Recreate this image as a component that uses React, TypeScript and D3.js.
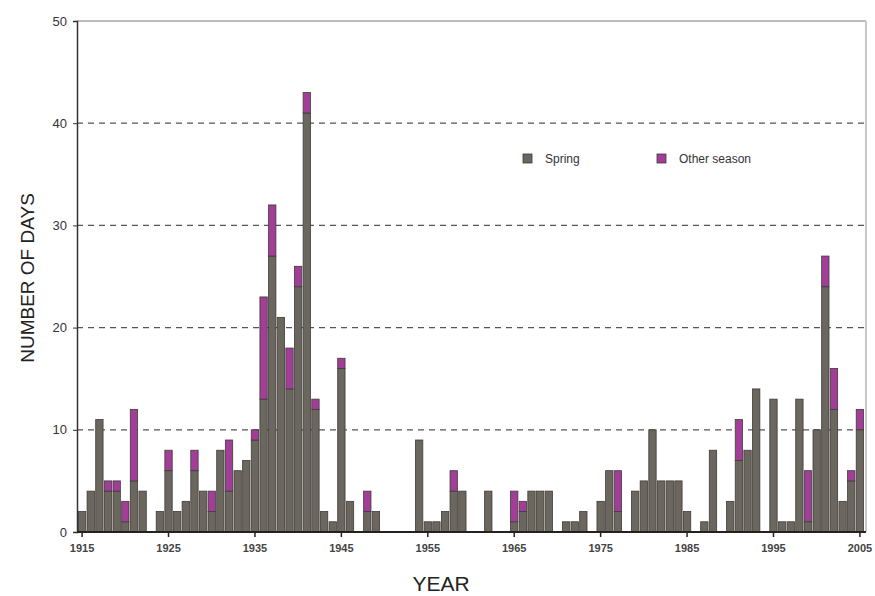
import React, { useEffect, useRef } from "react";
import * as d3 from "d3";

// years 1915..2005, spring days and other-season days (stacked)
const years = d3.range(1915, 2006);
const springDays = [
  2, 4, 11, 4, 4, 1, 5, 4, 0, 2, // 1915-1924
  6, 2, 3, 6, 4, 2, 8, 4, 6, 7, // 1925-1934
  9, 13, 27, 21, 14, 24, 41, 12, 2, 1, // 1935-1944
  16, 3, 0, 2, 2, 0, 0, 0, 0, 9, // 1945-1954
  1, 1, 2, 4, 4, 0, 0, 4, 0, 0, // 1955-1964
  1, 2, 4, 4, 4, 0, 1, 1, 2, 0, // 1965-1974
  3, 6, 2, 0, 4, 5, 10, 5, 5, 5, // 1975-1984
  2, 0, 1, 8, 0, 3, 7, 8, 14, 0, // 1985-1994
  13, 1, 1, 13, 1, 10, 24, 12, 3, 5, // 1995-2004
  10, // 2005
];
const otherDays = [
  0, 0, 0, 1, 1, 2, 7, 0, 0, 0,
  2, 0, 0, 2, 0, 2, 0, 5, 0, 0,
  1, 10, 5, 0, 4, 2, 2, 1, 0, 0,
  1, 0, 0, 2, 0, 0, 0, 0, 0, 0,
  0, 0, 0, 2, 0, 0, 0, 0, 0, 0,
  3, 1, 0, 0, 0, 0, 0, 0, 0, 0,
  0, 0, 4, 0, 0, 0, 0, 0, 0, 0,
  0, 0, 0, 0, 0, 0, 4, 0, 0, 0,
  0, 0, 0, 0, 5, 0, 3, 4, 0, 1,
  2,
];
const xTickYears = [1915, 1925, 1935, 1945, 1955, 1965, 1975, 1985, 1995, 2005];
const yTicks = [0, 10, 20, 30, 40, 50];
const gridValues = [10, 20, 30, 40];
const seriesNames = ["Spring", "Other season"];

const W = 875;
const H = 596;
const GRAY = "#6b675e";
const PURPLE = "#a23e98";

export default function App() {
  const ref = useRef<SVGSVGElement | null>(null);

  useEffect(() => {
    const svg = d3.select(ref.current);
    svg.selectAll("*").remove();

    const left = 77, right = 866, top = 21, bottom = 532;

    const x = d3.scaleBand<number>()
      .domain(years)
      .range([left + 1, right - 2])
      .paddingInner(0.15)
      .paddingOuter(0.05);
    const y = d3.scaleLinear().domain([0, 50]).range([bottom, top]);

    const rows = years.map((yr, i) => ({ year: yr, spring: springDays[i], other: otherDays[i] }));
    const stacked = d3.stack<any>().keys(["spring", "other"])(rows);
    const colors = [GRAY, PURPLE];

    // frame (top + right, light)
    svg.append("line")
      .attr("x1", left).attr("x2", right).attr("y1", top).attr("y2", top)
      .attr("stroke", "#bdbdbd").attr("stroke-width", 2);
    svg.append("line")
      .attr("x1", right).attr("x2", right).attr("y1", top).attr("y2", bottom)
      .attr("stroke", "#c8c8c8").attr("stroke-width", 2);

    // dashed grid
    svg.append("g").selectAll("line")
      .data(gridValues)
      .enter().append("line")
      .attr("x1", left).attr("x2", right)
      .attr("y1", (d) => y(d)).attr("y2", (d) => y(d))
      .attr("stroke", "#555").attr("stroke-width", 1.2)
      .attr("stroke-dasharray", "6,5");

    // bars
    stacked.forEach((layer, li) => {
      svg.append("g").selectAll("rect")
        .data(layer.filter((d) => d[1] - d[0] > 0))
        .enter().append("rect")
        .attr("x", (d: any) => x(d.data.year)!)
        .attr("width", x.bandwidth())
        .attr("y", (d) => y(d[1]))
        .attr("height", (d) => y(d[0]) - y(d[1]))
        .attr("fill", colors[li])
        .attr("stroke", "#3e3b38")
        .attr("stroke-width", 0.8);
    });

    // axes
    const yAxis = svg.append("g")
      .attr("transform", `translate(${left},0)`)
      .call(d3.axisLeft(y).tickValues(yTicks).tickSize(4).tickPadding(6));
    yAxis.select(".domain").attr("stroke", "#333").attr("stroke-width", 1.5);
    yAxis.selectAll(".tick line").attr("stroke", "#333");
    yAxis.selectAll("text")
      .attr("font-family", "Liberation Sans, Arial, sans-serif")
      .attr("font-size", 13).attr("fill", "#333");

    const xAxis = svg.append("g")
      .attr("transform", `translate(0,${bottom})`)
      .call(
        d3.axisBottom(x)
          .tickValues(xTickYears)
          .tickSize(5)
          .tickPadding(7)
          .tickSizeOuter(0)
      );
    xAxis.select(".domain").attr("stroke", "#222").attr("stroke-width", 2)
      .attr("d", `M${left},0H${right}`);
    xAxis.selectAll(".tick line").attr("stroke", "#222").attr("stroke-width", 1.5);
    xAxis.selectAll("text")
      .attr("font-family", "Liberation Sans, Arial, sans-serif")
      .attr("font-size", 11).attr("font-weight", "bold").attr("fill", "#444");

    // axis titles
    svg.append("text")
      .attr("x", 441).attr("y", 591)
      .attr("text-anchor", "middle")
      .attr("font-family", "Liberation Sans, Arial, sans-serif")
      .attr("font-size", 21).attr("fill", "#222")
      .text("YEAR");
    svg.append("text")
      .attr("transform", "translate(34,278) rotate(-90)")
      .attr("text-anchor", "middle")
      .attr("font-family", "Liberation Sans, Arial, sans-serif")
      .attr("font-size", 19).attr("fill", "#222")
      .text("NUMBER OF DAYS");

    // legend
    const legX = [523, 657];
    seriesNames.forEach((name, i) => {
      svg.append("rect")
        .attr("x", legX[i]).attr("y", 154)
        .attr("width", 9).attr("height", 9)
        .attr("fill", colors[i]).attr("stroke", "#3e3b38").attr("stroke-width", 0.8);
      svg.append("text")
        .attr("x", legX[i] + 22).attr("y", 163)
        .attr("font-family", "Liberation Sans, Arial, sans-serif")
        .attr("font-size", 12).attr("fill", "#333")
        .text(name);
    });
  }, []);

  return (
    <svg
      ref={ref}
      width={W}
      height={H}
      style={{ position: "absolute", left: 0, top: 0, background: "#fff" }}
    />
  );
}
